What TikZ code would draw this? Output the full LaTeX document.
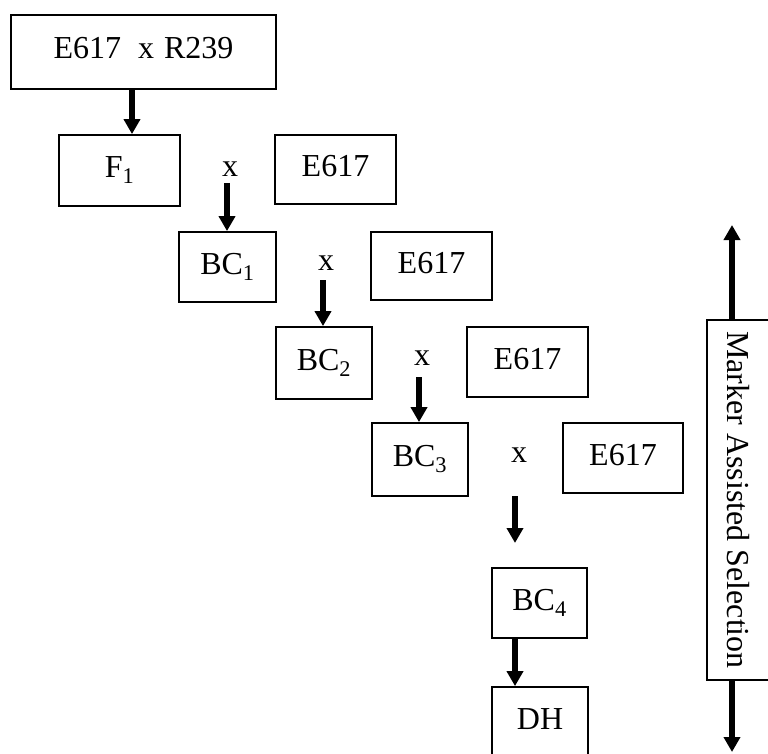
\documentclass[tikz,border=0pt]{standalone}
\usepackage{fontspec}
\setmainfont{Liberation Serif}
\usetikzlibrary{arrows.meta,calc}
\begin{document}
\begin{tikzpicture}[x=1pt,y=-1pt,
  font=\fontsize{32}{38}\selectfont,
  box/.style={draw, line width=1.8pt, inner sep=0pt, text height=22pt, text depth=8pt},
  arr/.style={line width=6pt, -{Triangle[width=16pt,length=15pt]}},
  lbl/.style={inner sep=0pt}]
\useasboundingbox (0,0) rectangle (768,754);
\clip (0,0) rectangle (768,754);
% boxes
\node[box, minimum width=265pt, minimum height=74pt] (top) at (143.5,52) {E617\hspace{17pt}x\hspace{10pt}R239};
\node[box, minimum width=121pt, minimum height=71pt] (F1) at (119.5,170.5) {F\textsubscript{1}};
\node[lbl] (x1) at (230,169) {x};
\node[box, minimum width=121pt, minimum height=69pt] (E1) at (335.5,169.5) {E617};
\node[box, minimum width=97pt, minimum height=70pt] (BC1) at (227.5,267) {BC\textsubscript{1}};
\node[lbl] (x2) at (326,263) {x};
\node[box, minimum width=121pt, minimum height=68pt] (E2) at (431.5,266) {E617};
\node[box, minimum width=96pt, minimum height=72pt] (BC2) at (324,363) {BC\textsubscript{2}};
\node[lbl] (x3) at (422,358) {x};
\node[box, minimum width=121pt, minimum height=70pt] (E3) at (527.5,362) {E617};
\node[box, minimum width=96pt, minimum height=73pt] (BC3) at (420,459.5) {BC\textsubscript{3}};
\node[lbl] (x4) at (519,455) {x};
\node[box, minimum width=120pt, minimum height=70pt] (E4) at (623,458) {E617};
\node[box, minimum width=95pt, minimum height=70pt] (BC4) at (539.5,603) {BC\textsubscript{4}};
\node[box, minimum width=96pt, minimum height=70pt] (DH) at (540,722) {DH};
\node[draw, line width=1.8pt, inner sep=0pt, minimum width=62pt, minimum height=360pt] (MAS) at (738,500) {\rotatebox{-90}{Marker Assisted Selection}};
% arrow coordinates
\coordinate (c1) at (132,0);
\coordinate (s2) at (227,183);
\coordinate (s3) at (323,280);
\coordinate (s4) at (419,377);
\coordinate (s5) at (515,496);
\coordinate (e5) at (515,543);
\coordinate (c6) at (515,0);
\coordinate (mtop) at (732,225);
\coordinate (mbot) at (732,752);
% arrows
\draw[arr] (c1 |- top.south) -- (c1 |- F1.north);
\draw[arr] (s2) -- (s2 |- BC1.north);
\draw[arr] (s3) -- (s3 |- BC2.north);
\draw[arr] (s4) -- (s4 |- BC3.north);
\draw[arr] (s5) -- (e5);
\draw[arr] (c6 |- BC4.south) -- (c6 |- DH.north);
\draw[arr] (mtop |- MAS.north) -- (mtop);
\draw[arr] (mbot |- MAS.south) -- (mbot);
\end{tikzpicture}
\end{document}
